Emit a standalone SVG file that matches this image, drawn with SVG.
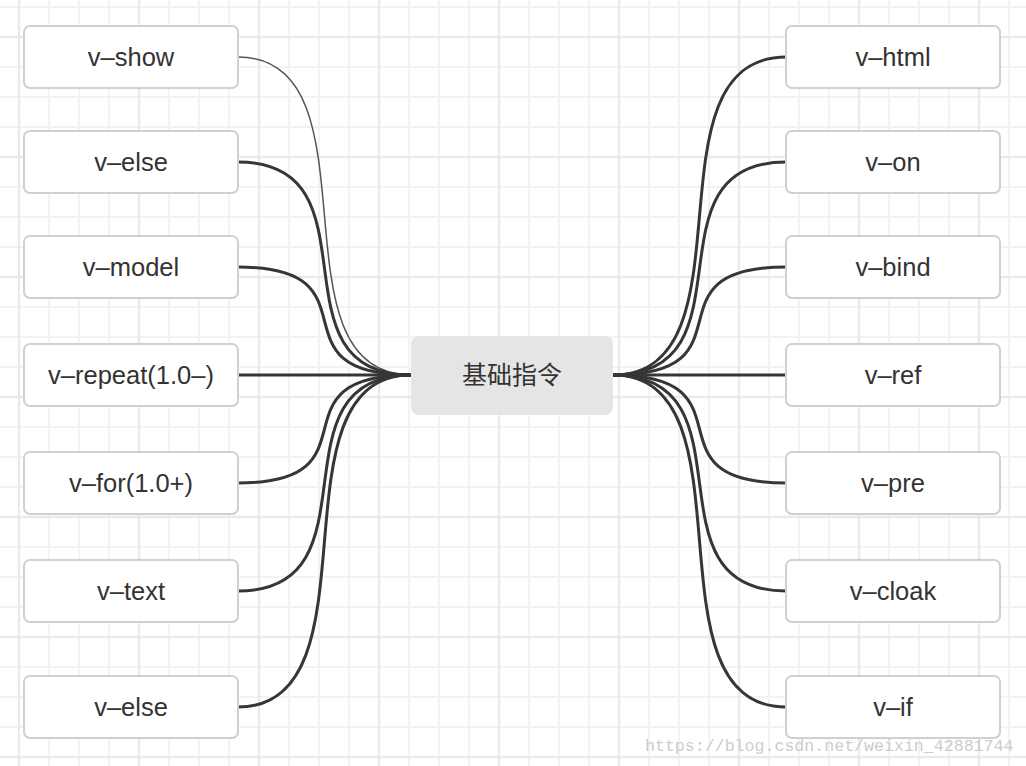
<svg xmlns="http://www.w3.org/2000/svg" width="1026" height="766" viewBox="0 0 1026 766">
<style>
.box{fill:#ffffff;stroke:#d0d0d0;stroke-width:2}
.lbl{font-family:"Liberation Sans",Arial,sans-serif;font-size:25.5px;fill:#333333;text-anchor:middle}
.root{fill:#e5e5e5}
.rootlbl{font-family:"Noto Sans CJK SC","Liberation Sans",sans-serif;font-size:25px;fill:#333333;text-anchor:middle}
.edge{fill:none;stroke:#363636;stroke-width:3;stroke-linecap:round}
.thin{fill:none;stroke:#555555;stroke-width:1.5}
.wm{font-family:"Liberation Mono","DejaVu Sans Mono",monospace;font-size:16.6px;fill:#cccccc}
</style>
<defs>
<pattern id="grid" patternUnits="userSpaceOnUse" x="4" y="22" width="120" height="120">
<g stroke="#f3f3f3" stroke-width="2">
<line x1="45" y1="0" x2="45" y2="120"/>
<line x1="75" y1="0" x2="75" y2="120"/>
<line x1="105" y1="0" x2="105" y2="120"/>
<line x1="0" y1="45" x2="120" y2="45"/>
<line x1="0" y1="75" x2="120" y2="75"/>
<line x1="0" y1="105" x2="120" y2="105"/>
</g>
<g stroke="#eaeaea" stroke-width="2.4">
<line x1="15" y1="0" x2="15" y2="120"/>
<line x1="0" y1="15" x2="120" y2="15"/>
</g>
</pattern>
</defs>
<rect x="0" y="0" width="1026" height="766" fill="#ffffff"/>
<rect x="0" y="0" width="1026" height="766" fill="url(#grid)"/>

<g id="connectors">
<path class="thin" d="M238,57 C383,57 266,375 411,375"/>
<path class="edge" d="M238,162 C383,162 266,375 411,375"/>
<path class="edge" d="M238,267 C383,267 266,375 411,375"/>
<path class="edge" d="M238,375 L411,375"/>
<path class="edge" d="M238,483 C383,483 266,375 411,375"/>
<path class="edge" d="M238,591 C383,591 266,375 411,375"/>
<path class="edge" d="M238,707 C383,707 266,375 411,375"/>
<path class="edge" d="M613,375 C758,375 641,57 786,57"/>
<path class="edge" d="M613,375 C758,375 641,162 786,162"/>
<path class="edge" d="M613,375 C758,375 641,267 786,267"/>
<path class="edge" d="M613,375 L786,375"/>
<path class="edge" d="M613,375 C758,375 641,483 786,483"/>
<path class="edge" d="M613,375 C758,375 641,591 786,591"/>
<path class="edge" d="M613,375 C758,375 641,707 786,707"/>
</g>

<g id="root">
<rect class="root" x="411" y="336" width="202" height="79" rx="8"/>
<text class="rootlbl" x="512" y="384">基础指令</text>
</g>

<g id="n-v-show"><rect class="box" x="24" y="26" width="214" height="62" rx="6"/><text class="lbl" x="131" y="66">v–show</text></g>
<g id="n-v-else-1"><rect class="box" x="24" y="131" width="214" height="62" rx="6"/><text class="lbl" x="131" y="171">v–else</text></g>
<g id="n-v-model"><rect class="box" x="24" y="236" width="214" height="62" rx="6"/><text class="lbl" x="131" y="276">v–model</text></g>
<g id="n-v-repeat"><rect class="box" x="24" y="344" width="214" height="62" rx="6"/><text class="lbl" x="131" y="384">v–repeat(1.0–)</text></g>
<g id="n-v-for"><rect class="box" x="24" y="452" width="214" height="62" rx="6"/><text class="lbl" x="131" y="492">v–for(1.0+)</text></g>
<g id="n-v-text"><rect class="box" x="24" y="560" width="214" height="62" rx="6"/><text class="lbl" x="131" y="600">v–text</text></g>
<g id="n-v-else-2"><rect class="box" x="24" y="676" width="214" height="62" rx="6"/><text class="lbl" x="131" y="716">v–else</text></g>

<g id="n-v-html"><rect class="box" x="786" y="26" width="214" height="62" rx="6"/><text class="lbl" x="893" y="66">v–html</text></g>
<g id="n-v-on"><rect class="box" x="786" y="131" width="214" height="62" rx="6"/><text class="lbl" x="893" y="171">v–on</text></g>
<g id="n-v-bind"><rect class="box" x="786" y="236" width="214" height="62" rx="6"/><text class="lbl" x="893" y="276">v–bind</text></g>
<g id="n-v-ref"><rect class="box" x="786" y="344" width="214" height="62" rx="6"/><text class="lbl" x="893" y="384">v–ref</text></g>
<g id="n-v-pre"><rect class="box" x="786" y="452" width="214" height="62" rx="6"/><text class="lbl" x="893" y="492">v–pre</text></g>
<g id="n-v-cloak"><rect class="box" x="786" y="560" width="214" height="62" rx="6"/><text class="lbl" x="893" y="600">v–cloak</text></g>
<g id="n-v-if"><rect class="box" x="786" y="676" width="214" height="62" rx="6"/><text class="lbl" x="893" y="716">v–if</text></g>

<text class="wm" x="645" y="751">https://blog.csdn.net/weixin_42881744</text>
</svg>
